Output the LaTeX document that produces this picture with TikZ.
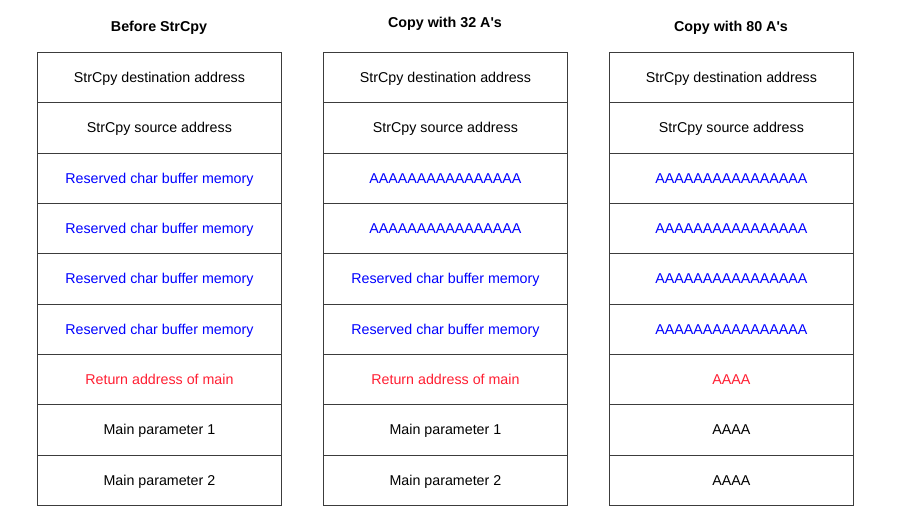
\documentclass[tikz,border=0pt]{standalone}
\usepackage{fontspec}
\setmainfont{Liberation Sans}
\definecolor{bufblue}{RGB}{0,0,255}
\definecolor{retred}{RGB}{255,30,50}
\definecolor{edge}{RGB}{60,60,60}
\begin{document}
\begin{tikzpicture}[x=1pt,y=-1pt,
  cell/.style={draw=edge,line width=0.9pt,minimum width=244pt,minimum height=50.33pt,inner sep=0pt,anchor=north west,font=\fontsize{14.25}{16}\selectfont,text height=0.97em,text depth=0pt},
  ttl/.style={font=\bfseries\fontsize{14.3}{16}\selectfont,anchor=center,text height=0.716em,text depth=0pt}]
\useasboundingbox (0,0) rectangle (907,532);
\def\rh{50.33}
\node[ttl] (t1) at (159,28) {Before StrCpy};
\node[ttl] (t2) at (445,24) {Copy with 32 A\textquotesingle s};
\node[ttl] (t3) at (731,28) {Copy with 80 A\textquotesingle s};
% column 1
\node[cell] (a1) at (37,52) {StrCpy destination address};
\node[cell] (a2) at (37,52+\rh) {StrCpy source address};
\node[cell,text=bufblue] (a3) at (37,52+2*\rh) {Reserved char buffer memory};
\node[cell,text=bufblue] (a4) at (37,52+3*\rh) {Reserved char buffer memory};
\node[cell,text=bufblue] (a5) at (37,52+4*\rh) {Reserved char buffer memory};
\node[cell,text=bufblue] (a6) at (37,52+5*\rh) {Reserved char buffer memory};
\node[cell,text=retred] (a7) at (37,52+6*\rh) {Return address of main};
\node[cell] (a8) at (37,52+7*\rh) {Main parameter 1};
\node[cell] (a9) at (37,52+8*\rh) {Main parameter 2};
% column 2
\node[cell] (b1) at (323,52) {StrCpy destination address};
\node[cell] (b2) at (323,52+\rh) {StrCpy source address};
\node[cell,text=bufblue] (b3) at (323,52+2*\rh) {AAAAAAAAAAAAAAAA};
\node[cell,text=bufblue] (b4) at (323,52+3*\rh) {AAAAAAAAAAAAAAAA};
\node[cell,text=bufblue] (b5) at (323,52+4*\rh) {Reserved char buffer memory};
\node[cell,text=bufblue] (b6) at (323,52+5*\rh) {Reserved char buffer memory};
\node[cell,text=retred] (b7) at (323,52+6*\rh) {Return address of main};
\node[cell] (b8) at (323,52+7*\rh) {Main parameter 1};
\node[cell] (b9) at (323,52+8*\rh) {Main parameter 2};
% column 3
\node[cell] (c1) at (609,52) {StrCpy destination address};
\node[cell] (c2) at (609,52+\rh) {StrCpy source address};
\node[cell,text=bufblue] (c3) at (609,52+2*\rh) {AAAAAAAAAAAAAAAA};
\node[cell,text=bufblue] (c4) at (609,52+3*\rh) {AAAAAAAAAAAAAAAA};
\node[cell,text=bufblue] (c5) at (609,52+4*\rh) {AAAAAAAAAAAAAAAA};
\node[cell,text=bufblue] (c6) at (609,52+5*\rh) {AAAAAAAAAAAAAAAA};
\node[cell,text=retred] (c7) at (609,52+6*\rh) {AAAA};
\node[cell] (c8) at (609,52+7*\rh) {AAAA};
\node[cell] (c9) at (609,52+8*\rh) {AAAA};
\end{tikzpicture}
\end{document}
